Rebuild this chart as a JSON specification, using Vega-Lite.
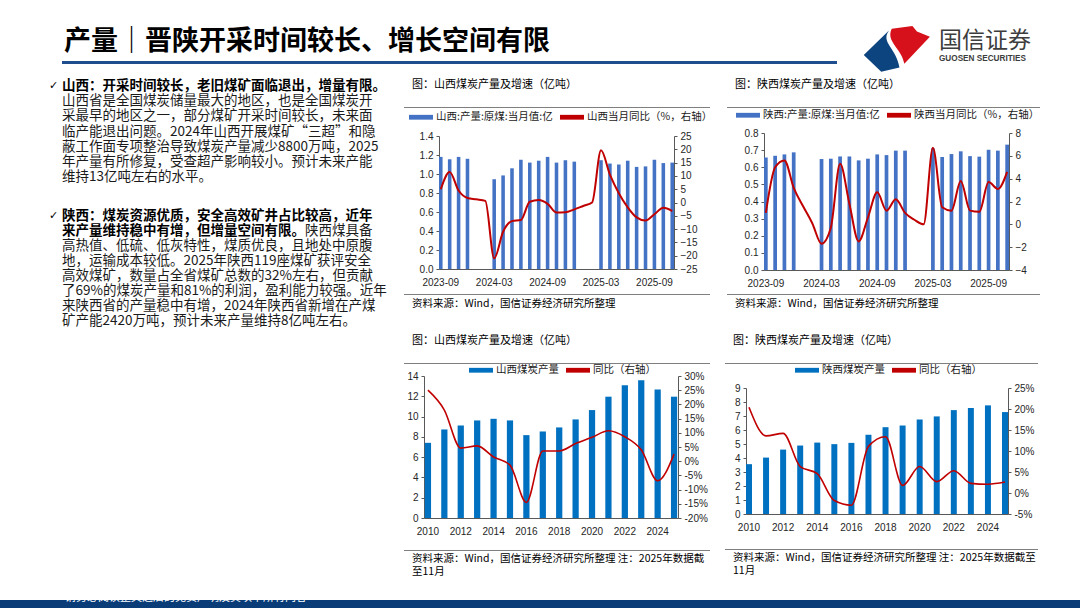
{
  "$schema": "https://vega.github.io/schema/vega-lite/v6.json",
  "padding": {"left": 0, "top": 25, "right": 0, "bottom": 0},
  "background": "white",
  "spacing": 5,
  "resolve": {"scale": {"color": "independent"}},
  "config": {
    "view": {"stroke": null},
    "font": "Noto Sans CJK SC",
    "axis": {"labelFont": "Liberation Sans", "labelFontSize": 10, "labelColor": "#262626", "domainColor": "#595959", "tickColor": "#595959", "grid": false, "labelOverlap": false},
    "legend": {"labelFont": "Noto Sans CJK SC"},
    "title": {"font": "Noto Sans CJK SC", "fontWeight": "normal", "color": "#000000"}
  },
  "vconcat": [
    {
      "spacing": 23,
      "hconcat": [
        {"width": 37, "height": 1, "data": {"values": []}, "mark": {"type": "text"}, "encoding": {"text": {"value": ""}}},
        {
          "spacing": 0,
          "vconcat": [
            {
              "width": 775, "height": 35,
              "data": {"values": [{"text": "产量｜晋陕开采时间较长、增长空间有限"}]},
              "mark": {"type": "text", "align": "left", "baseline": "middle", "fontSize": 27, "fontWeight": "bold", "font": "Noto Sans CJK SC", "color": "#000000", "dx": 2, "dy": -2},
              "encoding": {"text": {"field": "text"}, "x": {"datum": 0, "type": "quantitative", "scale": {"domain": [0, 1]}, "axis": null}}
            },
            {"width": 775, "height": 3, "data": {"values": [{"part": "标题线"}]}, "mark": {"type": "rule", "color": "#1f4e8f", "strokeWidth": 3, "strokeCap": "butt"}, "encoding": {"y": {"datum": 0.5, "type": "quantitative", "scale": {"domain": [0, 1]}, "axis": null}}}
          ]
        },
        {
          "width": 175, "height": 47,
          "data": {"values": [{"name": "国信证券", "en": "GUOSEN SECURITIES"}]},
          "layer": [
            {"mark": {"type": "point", "shape": "M-0.92,0.2 L-0.2,-0.5 C-0.45,-0.15,0.02,0.0,0.1,0.56 L-0.42,0.68 Z", "filled": true, "color": "#0c447f", "size": 4900, "opacity": 1, "strokeWidth": 0},
             "encoding": {"x": {"datum": 0.194, "type": "quantitative", "scale": {"domain": [0, 1]}, "axis": null}, "y": {"datum": 0.532, "type": "quantitative", "scale": {"domain": [0, 1]}, "axis": null}}},
            {"mark": {"type": "point", "shape": "M-0.12,-0.55 L0.47,-0.63 L0.6,-0.47 L0.97,-0.32 L0.24,0.45 C0.16,0.0,-0.3,-0.18,-0.12,-0.55 Z", "filled": true, "color": "#d7111b", "size": 4900, "opacity": 1, "strokeWidth": 0},
             "encoding": {"x": {"datum": 0.194, "type": "quantitative"}, "y": {"datum": 0.532, "type": "quantitative"}}},
            {"mark": {"type": "text", "align": "left", "baseline": "middle", "fontSize": 23, "color": "#3d3d3d", "font": "Noto Sans CJK SC"}, "encoding": {"text": {"field": "name"}, "x": {"datum": 0.44, "type": "quantitative"}, "y": {"datum": 0.68, "type": "quantitative"}}},
            {"mark": {"type": "text", "align": "left", "baseline": "middle", "fontSize": 8.2, "fontWeight": "bold", "color": "#3d3d3d", "font": "Liberation Sans"}, "encoding": {"text": {"field": "en"}, "x": {"datum": 0.44, "type": "quantitative"}, "y": {"datum": 0.3, "type": "quantitative"}}}
          ]
        }
      ]
    },
    {
      "spacing": 0,
      "resolve": {"scale": {"color": "independent"}},
      "hconcat": [
        {"width": 49, "height": 509, "data": {"values": []}, "mark": {"type": "text"}, "encoding": {"text": {"value": ""}}},
        {
          "spacing": 23,
          "vconcat": [
            {
              "width": 341, "height": 107,
              "data": {"values": [
                {"line": 0, "kind": "要点", "text": "山西：开采时间较长，老旧煤矿面临退出，增量有限。"},
                {"line": 1, "kind": "正文", "text": "山西省是全国煤炭储量最大的地区，也是全国煤炭开"},
                {"line": 2, "kind": "正文", "text": "采最早的地区之一，部分煤矿开采时间较长，未来面"},
                {"line": 3, "kind": "正文", "text": "临产能退出问题。2024年山西开展煤矿“三超”和隐"},
                {"line": 4, "kind": "正文", "text": "蔽工作面专项整治导致煤炭产量减少8800万吨，2025"},
                {"line": 5, "kind": "正文", "text": "年产量有所修复，受查超产影响较小。预计未来产能"},
                {"line": 6, "kind": "正文", "text": "维持13亿吨左右的水平。"}
              ]},
              "encoding": {
                "y": {"field": "line", "type": "ordinal", "axis": null, "scale": {"domain": [0, 1, 2, 3, 4, 5, 6]}},
                "x": {"datum": 0, "type": "quantitative", "scale": {"domain": [0, 1]}, "axis": null},
                "text": {"field": "text"}
              },
              "layer": [
                {"transform": [{"filter": "datum.kind === '要点'"}], "mark": {"type": "text", "align": "left", "baseline": "middle", "fontSize": 13.5, "fontWeight": "bold", "color": "#000000"}},
                {"transform": [{"filter": "datum.kind === '正文'"}], "mark": {"type": "text", "align": "left", "baseline": "middle", "fontSize": 13.5, "color": "#1a1a1a"}},
                {"transform": [{"filter": "datum.line === 0"}], "mark": {"type": "text", "align": "left", "baseline": "middle", "dx": -13, "fontSize": 11, "font": "DejaVu Sans", "color": "#000000"}, "encoding": {"text": {"value": "✓"}}}
              ]
            },
            {
              "width": 341, "height": 120,
              "data": {"values": [
                {"line": 0, "kind": "要点", "text": "陕西：煤炭资源优质，安全高效矿井占比较高，近年"},
                {"line": 1, "kind": "要点", "text": "来产量维持稳中有增，但增量空间有限。"},
                {"line": 1, "kind": "续", "text": "陕西煤具备"},
                {"line": 2, "kind": "正文", "text": "高热值、低硫、低灰特性，煤质优良，且地处中原腹"},
                {"line": 3, "kind": "正文", "text": "地，运输成本较低。2025年陕西119座煤矿获评安全"},
                {"line": 4, "kind": "正文", "text": "高效煤矿，数量占全省煤矿总数的32%左右，但贡献"},
                {"line": 5, "kind": "正文", "text": "了69%的煤炭产量和81%的利润，盈利能力较强。近年"},
                {"line": 6, "kind": "正文", "text": "来陕西省的产量稳中有增，2024年陕西省新增在产煤"},
                {"line": 7, "kind": "正文", "text": "矿产能2420万吨，预计未来产量维持8亿吨左右。"}
              ]},
              "encoding": {
                "y": {"field": "line", "type": "ordinal", "axis": null, "scale": {"domain": [0, 1, 2, 3, 4, 5, 6, 7]}},
                "x": {"datum": 0, "type": "quantitative", "scale": {"domain": [0, 1]}, "axis": null},
                "text": {"field": "text"}
              },
              "layer": [
                {"transform": [{"filter": "datum.kind === '要点'"}], "mark": {"type": "text", "align": "left", "baseline": "middle", "fontSize": 13.5, "fontWeight": "bold", "color": "#000000"}},
                {"transform": [{"filter": "datum.kind === '正文'"}], "mark": {"type": "text", "align": "left", "baseline": "middle", "fontSize": 13.5, "color": "#1a1a1a"}},
                {"transform": [{"filter": "datum.kind === '续'"}], "mark": {"type": "text", "align": "left", "baseline": "middle", "fontSize": 13.5, "color": "#1a1a1a", "dx": 243}},
                {"transform": [{"filter": "datum.line === 0"}], "mark": {"type": "text", "align": "left", "baseline": "middle", "dx": -13, "fontSize": 11, "font": "DejaVu Sans", "color": "#000000"}, "encoding": {"text": {"value": "✓"}}}
              ]
            }
          ]
        },
        {
          "spacing": 0,
          "resolve": {"scale": {"color": "independent"}},
          "vconcat": [
            {"width": 1, "height": 1, "data": {"values": []}, "mark": {"type": "text"}, "encoding": {"text": {"value": ""}}},
            {
              "spacing": 25,
              "resolve": {"scale": {"color": "independent"}},
              "vconcat": [
                {
                  "spacing": 13,
                  "resolve": {"scale": {"color": "independent"}},
                  "hconcat": [
                    {
                      "spacing": 0,
                      "resolve": {"scale": {"color": "independent"}},
                      "vconcat": [
                        {
                          "spacing": -3,
                          "resolve": {"scale": {"color": "independent"}},
                          "vconcat": [
                            {"width": 306, "height": 1, "title": {"text": "图：山西煤炭产量及增速（亿吨）", "anchor": "start", "frame": "group", "orient": "top", "offset": 8, "dx": 8, "baseline": "alphabetic", "fontSize": 11}, "data": {"values": [{"part": "分隔线"}]}, "mark": {"type": "rule", "color": "#7f7f7f", "strokeWidth": 1, "strokeCap": "butt"}, "encoding": {"y": {"datum": 0.5, "type": "quantitative", "scale": {"domain": [0, 1]}, "axis": null}}},
                            {
                              "spacing": 0,
                              "resolve": {"scale": {"color": "independent"}},
                              "hconcat": [
                                {"width": 1, "height": 1, "data": {"values": []}, "mark": {"type": "text"}, "encoding": {"text": {"value": ""}}},
                                {
                                  "width": 235, "height": 133,
                                  "data": {"values": [
                                    {"month": "2023-09", "prod": 1.18, "yoy": 5.0},
                                    {"month": "2023-10", "prod": 1.155, "yoy": 11.5},
                                    {"month": "2023-11", "prod": 1.18, "yoy": 4.5},
                                    {"month": "2023-12", "prod": 1.16, "yoy": 1.7},
                                    {"month": "2024-01", "prod": null, "yoy": 1.2},
                                    {"month": "2024-02", "prod": null, "yoy": 0.6},
                                    {"month": "2024-03", "prod": 0.945, "yoy": -21.0},
                                    {"month": "2024-04", "prod": 0.985, "yoy": -11.0},
                                    {"month": "2024-05", "prod": 1.06, "yoy": -7.0},
                                    {"month": "2024-06", "prod": 1.15, "yoy": -6.6},
                                    {"month": "2024-07", "prod": 1.12, "yoy": 0.3},
                                    {"month": "2024-08", "prod": 1.14, "yoy": 0.9},
                                    {"month": "2024-09", "prod": 1.18, "yoy": -0.5},
                                    {"month": "2024-10", "prod": 1.12, "yoy": -3.8},
                                    {"month": "2024-11", "prod": 1.145, "yoy": -3.7},
                                    {"month": "2024-12", "prod": 1.13, "yoy": -2.6},
                                    {"month": "2025-01", "prod": null, "yoy": -1.3},
                                    {"month": "2025-02", "prod": null, "yoy": 0.0},
                                    {"month": "2025-03", "prod": 1.145, "yoy": 19.6},
                                    {"month": "2025-04", "prod": 1.11, "yoy": 10.5},
                                    {"month": "2025-05", "prod": 1.1, "yoy": 3.5},
                                    {"month": "2025-06", "prod": 1.14, "yoy": -1.8},
                                    {"month": "2025-07", "prod": 1.075, "yoy": -5.6},
                                    {"month": "2025-08", "prod": 1.08, "yoy": -6.8},
                                    {"month": "2025-09", "prod": 1.15, "yoy": -4.4},
                                    {"month": "2025-10", "prod": 1.115, "yoy": -2.0},
                                    {"month": "2025-11", "prod": 1.12, "yoy": -3.2}
                                  ]},
                                  "encoding": {
                                    "x": {"field": "month", "type": "ordinal", "scale": {"paddingInner": 0.6, "paddingOuter": 0}, "axis": {"values": ["2023-09", "2024-03", "2024-09", "2025-03", "2025-09"], "labelAngle": 0, "ticks": false, "labelPadding": 8, "minExtent": 25, "title": null}}
                                  },
                                  "layer": [
                                    {
                                      "mark": {"type": "bar"},
                                      "encoding": {
                                        "y": {"field": "prod", "type": "quantitative", "scale": {"domain": [0, 1.4], "nice": false}, "axis": {"orient": "left", "values": [0, 0.2, 0.4, 0.6, 0.8, 1.0, 1.2, 1.4], "format": ".1f", "tickSize": 3, "labelPadding": 3, "minExtent": 34, "title": null}},
                                        "color": {"datum": "山西:产量:原煤:当月值:亿", "scale": {"domain": ["山西:产量:原煤:当月值:亿", "山西当月同比（%，右轴）"], "range": ["#4472C4", "#C00000"]}, "legend": {"orient": "none", "legendX": -30, "legendY": -31, "direction": "horizontal", "title": null, "symbolType": "M-1,-0.2L1,-0.2L1,0.2L-1,0.2Z", "symbolSize": 576, "symbolStrokeWidth": 0, "labelFontSize": 10.5, "labelColor": "#1a1a1a", "labelOffset": 3, "columnPadding": 7, "padding": 0, "labelLimit": 300}}
                                      }
                                    },
                                    {
                                      "mark": {"type": "line", "interpolate": "monotone", "strokeWidth": 2},
                                      "encoding": {
                                        "y": {"field": "yoy", "type": "quantitative", "scale": {"domain": [-25, 25], "nice": false}, "axis": {"orient": "right", "values": [-25, -20, -15, -10, -5, 0, 5, 10, 15, 20, 25], "tickSize": 3, "labelPadding": 3, "minExtent": 36, "title": null}},
                                        "color": {"datum": "山西当月同比（%，右轴）"}
                                      }
                                    }
                                  ],
                                  "resolve": {"scale": {"y": "independent"}}
                                }
                              ]
                            }
                          ]
                        },
                        {"width": 306, "height": 1, "title": {"text": "资料来源：Wind，国信证券经济研究所整理", "anchor": "start", "frame": "group", "orient": "bottom", "offset": 4, "dx": 8, "baseline": "top", "fontSize": 10.5}, "data": {"values": [{"part": "分隔线"}]}, "mark": {"type": "rule", "color": "#7f7f7f", "strokeWidth": 1, "strokeCap": "butt"}, "encoding": {"y": {"datum": 0.5, "type": "quantitative", "scale": {"domain": [0, 1]}, "axis": null}}}
                      ]
                    },
                    {
                      "spacing": 0,
                      "resolve": {"scale": {"color": "independent"}},
                      "vconcat": [
                        {
                          "spacing": -5,
                          "resolve": {"scale": {"color": "independent"}},
                          "vconcat": [
                            {"width": 313, "height": 1, "title": {"text": "图：陕西煤炭产量及增速（亿吨）", "anchor": "start", "frame": "group", "orient": "top", "offset": 8, "dx": 8, "baseline": "alphabetic", "fontSize": 11}, "data": {"values": [{"part": "分隔线"}]}, "mark": {"type": "rule", "color": "#7f7f7f", "strokeWidth": 1, "strokeCap": "butt"}, "encoding": {"y": {"datum": 0.5, "type": "quantitative", "scale": {"domain": [0, 1]}, "axis": null}}},
                            {
                              "spacing": 0,
                              "resolve": {"scale": {"color": "independent"}},
                              "hconcat": [
                                {"width": 1, "height": 1, "data": {"values": []}, "mark": {"type": "text"}, "encoding": {"text": {"value": ""}}},
                                {
                                  "width": 245, "height": 137,
                                  "data": {"values": [
                                    {"month": "2023-09", "prod": 0.657, "yoy": 1.0},
                                    {"month": "2023-10", "prod": 0.667, "yoy": 5.0},
                                    {"month": "2023-11", "prod": 0.675, "yoy": 5.6},
                                    {"month": "2023-12", "prod": 0.687, "yoy": 3.2},
                                    {"month": "2024-01", "prod": null, "yoy": 1.6},
                                    {"month": "2024-02", "prod": null, "yoy": 0.1},
                                    {"month": "2024-03", "prod": 0.648, "yoy": -1.7},
                                    {"month": "2024-04", "prod": 0.65, "yoy": -0.3},
                                    {"month": "2024-05", "prod": 0.663, "yoy": 5.3},
                                    {"month": "2024-06", "prod": 0.663, "yoy": 1.8},
                                    {"month": "2024-07", "prod": 0.64, "yoy": -1.5},
                                    {"month": "2024-08", "prod": 0.65, "yoy": 0.6},
                                    {"month": "2024-09", "prod": 0.675, "yoy": 2.8},
                                    {"month": "2024-10", "prod": 0.671, "yoy": 1.2},
                                    {"month": "2024-11", "prod": 0.697, "yoy": 2.2},
                                    {"month": "2024-12", "prod": 0.697, "yoy": 1.0},
                                    {"month": "2025-01", "prod": null, "yoy": 0.4},
                                    {"month": "2025-02", "prod": null, "yoy": 0.0},
                                    {"month": "2025-03", "prod": 0.71, "yoy": 6.7},
                                    {"month": "2025-04", "prod": 0.66, "yoy": 1.5},
                                    {"month": "2025-05", "prod": 0.677, "yoy": 1.2},
                                    {"month": "2025-06", "prod": 0.693, "yoy": 3.8},
                                    {"month": "2025-07", "prod": 0.665, "yoy": 1.2},
                                    {"month": "2025-08", "prod": 0.662, "yoy": 1.1},
                                    {"month": "2025-09", "prod": 0.702, "yoy": 3.7},
                                    {"month": "2025-10", "prod": 0.697, "yoy": 3.1},
                                    {"month": "2025-11", "prod": 0.732, "yoy": 4.6}
                                  ]},
                                  "encoding": {
                                    "x": {"field": "month", "type": "ordinal", "scale": {"paddingInner": 0.6, "paddingOuter": 0}, "axis": {"values": ["2023-09", "2024-03", "2024-09", "2025-03", "2025-09"], "labelAngle": 0, "ticks": false, "labelPadding": 8, "minExtent": 24, "title": null}}
                                  },
                                  "layer": [
                                    {
                                      "mark": {"type": "bar"},
                                      "encoding": {
                                        "y": {"field": "prod", "type": "quantitative", "scale": {"domain": [0, 0.8], "nice": false}, "axis": {"orient": "left", "values": [0, 0.1, 0.2, 0.3, 0.4, 0.5, 0.6, 0.7, 0.8], "format": ".1f", "tickSize": 3, "labelPadding": 3, "minExtent": 36, "title": null}},
                                        "color": {"datum": "陕西:产量:原煤:当月值:亿", "scale": {"domain": ["陕西:产量:原煤:当月值:亿", "陕西当月同比（%，右轴）"], "range": ["#4472C4", "#C00000"]}, "legend": {"orient": "none", "legendX": -28, "legendY": -30, "direction": "horizontal", "title": null, "symbolType": "M-1,-0.2L1,-0.2L1,0.2L-1,0.2Z", "symbolSize": 576, "symbolStrokeWidth": 0, "labelFontSize": 10.5, "labelColor": "#1a1a1a", "labelOffset": 3, "columnPadding": 7, "padding": 0, "labelLimit": 300}}
                                      }
                                    },
                                    {
                                      "mark": {"type": "line", "interpolate": "monotone", "strokeWidth": 2},
                                      "encoding": {
                                        "y": {"field": "yoy", "type": "quantitative", "scale": {"domain": [-4, 8], "nice": false}, "axis": {"orient": "right", "values": [-4, -2, 0, 2, 4, 6, 8], "tickSize": 3, "labelPadding": 3, "minExtent": 31, "title": null}},
                                        "color": {"datum": "陕西当月同比（%，右轴）"}
                                      }
                                    }
                                  ],
                                  "resolve": {"scale": {"y": "independent"}}
                                }
                              ]
                            }
                          ]
                        },
                        {"width": 313, "height": 1, "title": {"text": "资料来源：Wind，国信证券经济研究所整理", "anchor": "start", "frame": "group", "orient": "bottom", "offset": 4, "dx": 8, "baseline": "top", "fontSize": 10.5}, "data": {"values": [{"part": "分隔线"}]}, "mark": {"type": "rule", "color": "#7f7f7f", "strokeWidth": 1, "strokeCap": "butt"}, "encoding": {"y": {"datum": 0.5, "type": "quantitative", "scale": {"domain": [0, 1]}, "axis": null}}}
                      ]
                    }
                  ]
                },
                {
                  "spacing": 13,
                  "resolve": {"scale": {"color": "independent"}},
                  "hconcat": [
                    {
                      "spacing": 0,
                      "resolve": {"scale": {"color": "independent"}},
                      "vconcat": [
                        {
                          "spacing": -6,
                          "resolve": {"scale": {"color": "independent"}},
                          "vconcat": [
                            {"width": 306, "height": 1, "title": {"text": "图：山西煤炭产量及增速（亿吨）", "anchor": "start", "frame": "group", "orient": "top", "offset": 8, "dx": 8, "baseline": "alphabetic", "fontSize": 11}, "data": {"values": [{"part": "分隔线"}]}, "mark": {"type": "rule", "color": "#7f7f7f", "strokeWidth": 1, "strokeCap": "butt"}, "encoding": {"y": {"datum": 0.5, "type": "quantitative", "scale": {"domain": [0, 1]}, "axis": null}}},
                            {
                              "spacing": 0,
                              "resolve": {"scale": {"color": "independent"}},
                              "hconcat": [
                                {"width": 1, "height": 1, "data": {"values": []}, "mark": {"type": "text"}, "encoding": {"text": {"value": ""}}},
                                {
                                  "width": 254, "height": 142,
                                  "data": {"values": [
                                    {"year": 2010, "prod": 7.41, "yoy": 25.0},
                                    {"year": 2011, "prod": 8.73, "yoy": 18.0},
                                    {"year": 2012, "prod": 9.12, "yoy": 4.6},
                                    {"year": 2013, "prod": 9.62, "yoy": 5.4},
                                    {"year": 2014, "prod": 9.78, "yoy": 1.5},
                                    {"year": 2015, "prod": 9.62, "yoy": -1.4},
                                    {"year": 2016, "prod": 8.17, "yoy": -14.5},
                                    {"year": 2017, "prod": 8.53, "yoy": 3.6},
                                    {"year": 2018, "prod": 8.93, "yoy": 3.6},
                                    {"year": 2019, "prod": 9.72, "yoy": 6.2},
                                    {"year": 2020, "prod": 10.64, "yoy": 8.4},
                                    {"year": 2021, "prod": 11.96, "yoy": 10.7},
                                    {"year": 2022, "prod": 13.08, "yoy": 8.6},
                                    {"year": 2023, "prod": 13.57, "yoy": 4.0},
                                    {"year": 2024, "prod": 12.68, "yoy": -6.9},
                                    {"year": 2025, "prod": 11.96, "yoy": 2.5}
                                  ]},
                                  "encoding": {
                                    "x": {"field": "year", "type": "ordinal", "scale": {"paddingInner": 0.62, "paddingOuter": 0.05}, "axis": {"values": [2010, 2012, 2014, 2016, 2018, 2020, 2022, 2024], "labelAngle": 0, "ticks": false, "labelPadding": 8, "minExtent": 32, "title": null}}
                                  },
                                  "layer": [
                                    {
                                      "mark": {"type": "bar"},
                                      "encoding": {
                                        "y": {"field": "prod", "type": "quantitative", "scale": {"domain": [0, 14], "nice": false}, "axis": {"orient": "left", "values": [0, 2, 4, 6, 8, 10, 12, 14], "tickSize": 3, "labelPadding": 3, "minExtent": 19, "title": null}},
                                        "color": {"datum": "山西煤炭产量", "scale": {"domain": ["山西煤炭产量", "同比（右轴）"], "range": ["#0070C0", "#C00000"]}, "legend": {"orient": "none", "legendX": 45, "legendY": -18, "direction": "horizontal", "title": null, "symbolType": "M-1,-0.2L1,-0.2L1,0.2L-1,0.2Z", "symbolSize": 576, "symbolStrokeWidth": 0, "labelFontSize": 10.5, "labelColor": "#1a1a1a", "labelOffset": 3, "columnPadding": 7, "padding": 0, "labelLimit": 300}}
                                      }
                                    },
                                    {
                                      "mark": {"type": "line", "interpolate": "monotone", "strokeWidth": 1.6},
                                      "encoding": {
                                        "y": {"field": "yoy", "type": "quantitative", "scale": {"domain": [-20, 30], "nice": false}, "axis": {"orient": "right", "values": [-20, -15, -10, -5, 0, 5, 10, 15, 20, 25, 30], "labelExpr": "datum.value + '%'", "tickSize": 3, "labelPadding": 3, "minExtent": 32, "title": null}},
                                        "color": {"datum": "同比（右轴）"}
                                      }
                                    }
                                  ],
                                  "resolve": {"scale": {"y": "independent"}}
                                }
                              ]
                            }
                          ]
                        },
                        {"width": 306, "height": 1, "title": {"text": ["资料来源：Wind，国信证券经济研究所整理 注：2025年数据截", "至11月"], "anchor": "start", "frame": "group", "orient": "bottom", "offset": 3, "dx": 8, "baseline": "top", "fontSize": 10.5, "lineHeight": 12.5}, "data": {"values": [{"part": "分隔线"}]}, "mark": {"type": "rule", "color": "#7f7f7f", "strokeWidth": 1, "strokeCap": "butt"}, "encoding": {"y": {"datum": 0.5, "type": "quantitative", "scale": {"domain": [0, 1]}, "axis": null}}}
                      ]
                    },
                    {
                      "spacing": 0,
                      "resolve": {"scale": {"color": "independent"}},
                      "vconcat": [
                        {
                          "spacing": -6,
                          "resolve": {"scale": {"color": "independent"}},
                          "vconcat": [
                            {"width": 313, "height": 1, "title": {"text": "图：陕西煤炭产量及增速（亿吨）", "anchor": "start", "frame": "group", "orient": "top", "offset": 8, "dx": 8, "baseline": "alphabetic", "fontSize": 11}, "data": {"values": [{"part": "分隔线"}]}, "mark": {"type": "rule", "color": "#7f7f7f", "strokeWidth": 1, "strokeCap": "butt"}, "encoding": {"y": {"datum": 0.5, "type": "quantitative", "scale": {"domain": [0, 1]}, "axis": null}}},
                            {
                              "spacing": 0,
                              "resolve": {"scale": {"color": "independent"}},
                              "hconcat": [
                                {"width": 1, "height": 1, "data": {"values": []}, "mark": {"type": "text"}, "encoding": {"text": {"value": ""}}},
                                {
                                  "width": 262, "height": 126,
                                  "data": {"values": [
                                    {"year": 2010, "prod": 3.56, "yoy": 20.4},
                                    {"year": 2011, "prod": 4.03, "yoy": 13.6},
                                    {"year": 2012, "prod": 4.6, "yoy": 14.2},
                                    {"year": 2013, "prod": 4.89, "yoy": 6.3},
                                    {"year": 2014, "prod": 5.1, "yoy": 4.6},
                                    {"year": 2015, "prod": 4.99, "yoy": -1.8},
                                    {"year": 2016, "prod": 5.08, "yoy": -2.9},
                                    {"year": 2017, "prod": 5.66, "yoy": 11.1},
                                    {"year": 2018, "prod": 6.2, "yoy": 13.4},
                                    {"year": 2019, "prod": 6.32, "yoy": 1.8},
                                    {"year": 2020, "prod": 6.75, "yoy": 6.3},
                                    {"year": 2021, "prod": 6.97, "yoy": 2.7},
                                    {"year": 2022, "prod": 7.42, "yoy": 5.3},
                                    {"year": 2023, "prod": 7.57, "yoy": 2.3},
                                    {"year": 2024, "prod": 7.76, "yoy": 2.1},
                                    {"year": 2025, "prod": 7.28, "yoy": 2.6}
                                  ]},
                                  "encoding": {
                                    "x": {"field": "year", "type": "ordinal", "scale": {"paddingInner": 0.65, "paddingOuter": 0}, "axis": {"values": [2010, 2012, 2014, 2016, 2018, 2020, 2022, 2024], "labelAngle": 0, "ticks": false, "labelPadding": 8, "minExtent": 35, "title": null}}
                                  },
                                  "layer": [
                                    {
                                      "mark": {"type": "bar"},
                                      "encoding": {
                                        "y": {"field": "prod", "type": "quantitative", "scale": {"domain": [0, 9], "nice": false}, "axis": {"orient": "left", "values": [0, 1, 2, 3, 4, 5, 6, 7, 8, 9], "tickSize": 3, "labelPadding": 3, "minExtent": 20, "title": null}},
                                        "color": {"datum": "陕西煤炭产量", "scale": {"domain": ["陕西煤炭产量", "同比（右轴）"], "range": ["#0070C0", "#C00000"]}, "legend": {"orient": "none", "legendX": 49, "legendY": -30, "direction": "horizontal", "title": null, "symbolType": "M-1,-0.2L1,-0.2L1,0.2L-1,0.2Z", "symbolSize": 576, "symbolStrokeWidth": 0, "labelFontSize": 10.5, "labelColor": "#1a1a1a", "labelOffset": 3, "columnPadding": 7, "padding": 0, "labelLimit": 300}}
                                      }
                                    },
                                    {
                                      "mark": {"type": "line", "interpolate": "monotone", "strokeWidth": 1.6},
                                      "encoding": {
                                        "y": {"field": "yoy", "type": "quantitative", "scale": {"domain": [-5, 25], "nice": false}, "axis": {"orient": "right", "values": [-5, 0, 5, 10, 15, 20, 25], "labelExpr": "datum.value + '%'", "tickSize": 3, "labelPadding": 3, "minExtent": 30, "title": null}},
                                        "color": {"datum": "同比（右轴）"}
                                      }
                                    }
                                  ],
                                  "resolve": {"scale": {"y": "independent"}}
                                }
                              ]
                            }
                          ]
                        },
                        {"width": 313, "height": 1, "title": {"text": ["资料来源：Wind，国信证券经济研究所整理 注：2025年数据截至", "11月"], "anchor": "start", "frame": "group", "orient": "bottom", "offset": 3, "dx": 8, "baseline": "top", "fontSize": 10.5, "lineHeight": 12.5}, "data": {"values": [{"part": "分隔线"}]}, "mark": {"type": "rule", "color": "#7f7f7f", "strokeWidth": 1, "strokeCap": "butt"}, "encoding": {"y": {"datum": 0.5, "type": "quantitative", "scale": {"domain": [0, 1]}, "axis": null}}}
                      ]
                    }
                  ]
                }
              ]
            }
          ]
        }
      ]
    },
    {"width": 1080, "height": 17, "title": {"text": "请务必阅读正文之后的免责声明及其项下所有内容", "anchor": "start", "frame": "group", "orient": "top", "offset": -12, "dx": 65, "baseline": "alphabetic", "fontSize": 11, "color": "#ffffff"}, "data": {"values": [{"part": "页脚"}]}, "mark": {"type": "rect", "color": "#0a3d78"}, "encoding": {"x": {"datum": 0, "type": "quantitative", "scale": {"domain": [0, 1]}, "axis": null}, "x2": {"datum": 1}, "y": {"datum": 0, "type": "quantitative", "scale": {"domain": [0, 1]}, "axis": null}, "y2": {"datum": 1}}}
  ]
}
